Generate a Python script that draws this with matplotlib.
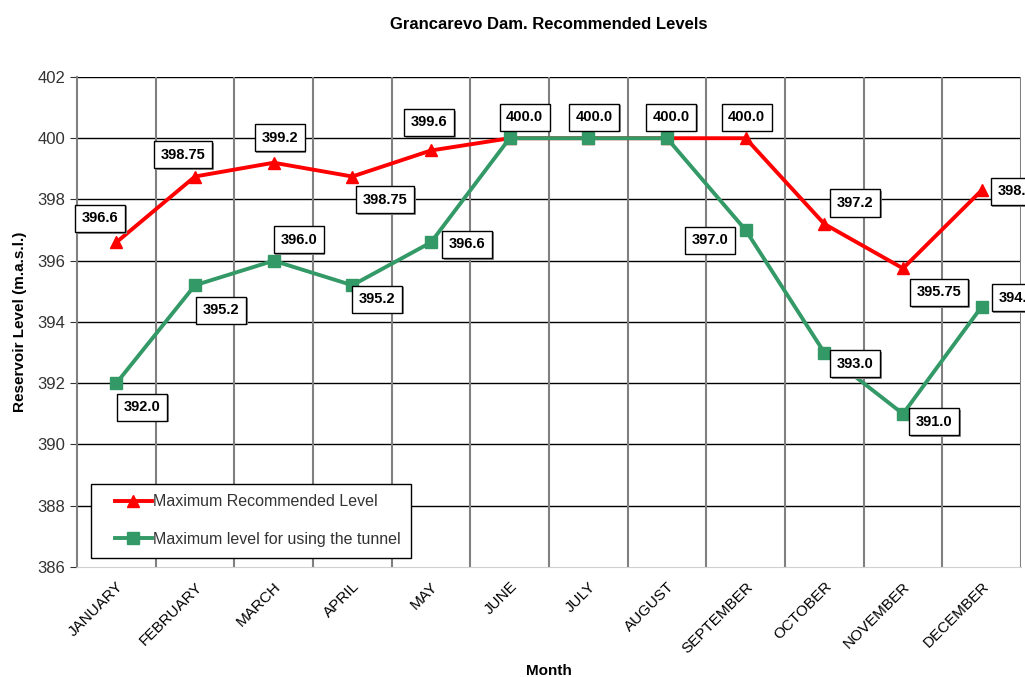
import matplotlib
matplotlib.use("Agg")
import matplotlib.pyplot as plt
import matplotlib.patheffects as pe
from matplotlib.patches import Rectangle
import numpy as np

plt.rcParams['font.family'] = ['Liberation Sans', 'DejaVu Sans']

months = ["JANUARY", "FEBRUARY", "MARCH", "APRIL", "MAY", "JUNE", "JULY",
          "AUGUST", "SEPTEMBER", "OCTOBER", "NOVEMBER", "DECEMBER"]
max_level = [396.6, 398.75, 399.2, 398.75, 399.6, 400.0, 400.0, 400.0, 400.0, 397.2, 395.75, 398.3]
tunnel_level = [392.0, 395.2, 396.0, 395.2, 396.6, 400.0, 400.0, 400.0, 397.0, 393.0, 391.0, 394.5]
max_labels = ["396.6", "398.75", "399.2", "398.75", "399.6", "400.0", "400.0", "400.0", "400.0",
              "397.2", "395.75", "398.3"]
tunnel_labels = ["392.0", "395.2", "396.0", "395.2", "396.6", None, None, None, "397.0",
                 "393.0", "391.0", "394.5"]

# label offsets in pixels (dx, dy up)
max_offsets = [(-16, 24), (-12, 22), (6, 25), (33, -23), (-2, 28), (15, 21), (6, 21), (4, 21),
               (1, 21), (31, 21), (36, -24), (34, -1)]
tunnel_offsets = [(26, -24), (26, -25), (25, 21), (25, -14), (36, -2), None, None, None,
                  (-36, -10), (31, -11), (31, -8), (35, 9)]

fig = plt.figure(figsize=(10.25, 6.77), dpi=100)
ax = fig.add_axes([0.0751, 0.1625, 0.921, 0.7238])

x = np.arange(len(months))
red = "#ff0000"
green = "#339966"

ax.plot(x, max_level, color=red, lw=2.8, marker="^", ms=9, label="Maximum Recommended Level", zorder=3)
ax.plot(x, tunnel_level, color=green, lw=2.8, marker="s", ms=8, label="Maximum level for using the tunnel", zorder=4)


def add_labels(values, labels, offsets):
    for i, (v, lab) in enumerate(zip(values, labels)):
        if lab is None:
            continue
        dx, dy = offsets[i]
        t = ax.annotate(lab, (x[i], v), xytext=(dx * 0.72, dy * 0.72), textcoords="offset points",
                        ha="center", va="center", fontsize=10.5, fontweight="bold",
                        bbox=dict(boxstyle="square,pad=0.45", fc="white", ec="black", lw=1),
                        zorder=6, annotation_clip=False)
        t.get_bbox_patch().set_path_effects([
            pe.SimplePatchShadow(offset=(1.2, -1.2), shadow_rgbFace="#909090", alpha=1),
            pe.Normal()])


add_labels(max_level, max_labels, max_offsets)
add_labels(tunnel_level, tunnel_labels, tunnel_offsets)

ax.set_xlim(-0.5, 11.5)
ax.set_ylim(386, 402)
ax.set_yticks(np.arange(386, 403, 2))
ax.set_xticks(x)
ax.set_xticklabels(months, rotation=45, ha="right", rotation_mode="anchor", fontsize=11)
ax.tick_params(axis="y", labelsize=12, colors="#333333", length=5)
ax.tick_params(axis="x", length=0, pad=9)

# horizontal grid black, vertical category separators gray
ax.grid(False)
for yv in np.arange(388, 403, 2):
    ax.axhline(yv, color="black", lw=1, zorder=1)
for xv in np.arange(0.5, 11.6, 1):
    ax.axvline(xv, color="#808080", lw=1.5, zorder=1)

for s in ["top", "right"]:
    ax.spines[s].set_visible(False)
ax.spines["left"].set_color("#808080")
ax.spines["left"].set_linewidth(1.5)
ax.spines["bottom"].set_color("#d0d0d0")

ax.set_title("Grancarevo Dam. Recommended Levels", fontsize=12, fontweight="bold", pad=34.5)
ax.set_ylabel("Reservoir Level (m.a.s.l.)", fontsize=11, fontweight="bold", labelpad=7)
ax.set_xlabel("Month", fontsize=11, fontweight="bold", labelpad=6)

# legend frame drawn separately so the entries can sit inset like the original
ax.add_patch(Rectangle((0.0148, 0.018), 0.3393, 0.151, transform=ax.transAxes,
                       fc="white", ec="black", lw=1, zorder=7))
leg = ax.legend(loc="center left", bbox_to_anchor=(0.0403, 0.0949), frameon=False,
                fontsize=11.5, handlelength=2.3, handletextpad=0.1, labelspacing=1.4,
                borderaxespad=0, borderpad=0)
leg.set_zorder(8)
for t in leg.get_texts():
    t.set_color("#333333")

fig.savefig("out.png", dpi=100)
